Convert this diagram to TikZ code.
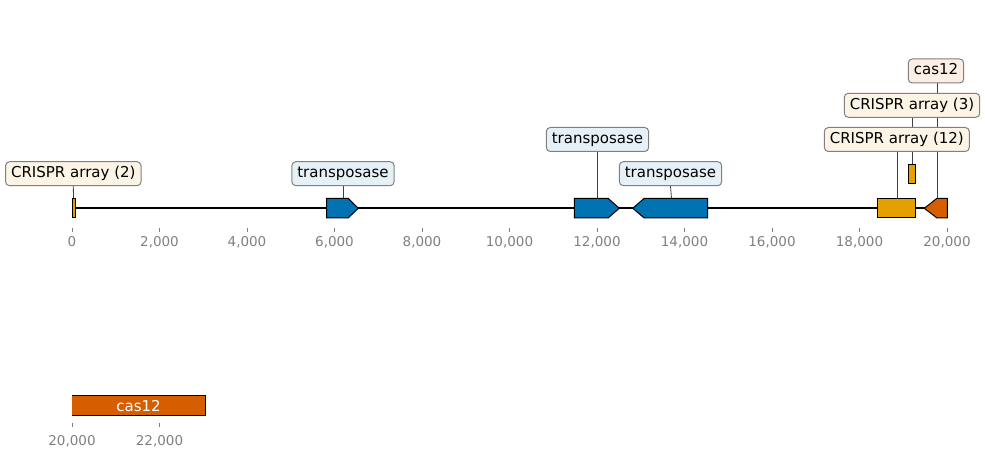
\documentclass[tikz,border=0pt]{standalone}
\usepackage{fontspec}
\setmainfont{DejaVu Sans}
\usetikzlibrary{backgrounds}

\definecolor{featblue}{HTML}{0072B2}
\definecolor{featgold}{HTML}{E69F00}
\definecolor{featred}{HTML}{D55E00}
\definecolor{tickgray}{HTML}{808080}

\begin{document}
\begin{tikzpicture}[x=1pt,y=-1pt,
    lbl/.style={draw=tickgray, line width=1pt, rounded corners=4pt, font=\fontsize{15}{18}\selectfont,
        inner xsep=5.5pt, inner ysep=5pt, text height=11pt, text depth=3pt},
    feat/.style={draw=black, line width=1pt, line join=miter},
    link/.style={draw=black!75, line width=0.8pt},
    ticklbl/.style={text=tickgray, font=\fontsize{13.5}{16}\selectfont, anchor=base}]
        \useasboundingbox (0,0) rectangle (985,457);

        % sequence line
        \draw[line width=2pt] (72,208.3) -- (947,208.3);

        \filldraw[feat, fill=featgold] (72,198.5) rectangle (75,217.8);
        \coordinate (cr2) at (73.5,198.5);

        \filldraw[feat, fill=featblue] (326.7,198.5) -- (348.3,198.5) -- (358.3,208.3) -- (348.3,217.8) -- (326.7,217.8) -- cycle;
        \coordinate (tp1) at (343,198.5);

        \filldraw[feat, fill=featblue] (574.3,198.5) -- (608.3,198.5) -- (619.3,208.3) -- (608.3,217.8) -- (574.3,217.8) -- cycle;
        \coordinate (tp2) at (597.5,198.5);

        \filldraw[feat, fill=featblue] (707.7,198.5) -- (644,198.5) -- (632.7,208.3) -- (644,217.8) -- (707.7,217.8) -- cycle;
        \coordinate (tp3) at (671.5,198.5);

        \filldraw[feat, fill=featgold] (877.3,198.5) rectangle (915.7,217.8);
        \coordinate (cr12) at (897.7,198.5);

        \filldraw[feat, fill=featgold] (908.3,164.2) rectangle (915.7,183.5);
        \coordinate (cr3) at (912.3,164.2);

        \filldraw[feat, fill=featred] (947.3,198.5) -- (936.7,198.5) -- (924.3,208.3) -- (936.7,217.8) -- (947.3,217.8) -- cycle;
        \coordinate (cas) at (937,198.5);

        % labels
        \node[lbl, fill=featgold!10!white] (lblcr2) at (73.3,173.7) {CRISPR array (2)};
        \node[lbl, fill=featblue!10!white] (lbltp1) at (343,173.7) {transposase};
        \node[lbl, fill=featblue!10!white] (lbltp2) at (597.5,139.5) {transposase};
        \node[lbl, fill=featblue!10!white] (lbltp3) at (670.5,173.7) {transposase};
        \node[lbl, fill=featgold!10!white] (lblcr12) at (896.8,139.5) {CRISPR array (12)};
        \node[lbl, fill=featgold!10!white] (lblcr3) at (912,105.3) {CRISPR array (3)};
        \node[lbl, fill=featred!10!white] (lblcas) at (936,71) {cas12};

        \begin{scope}[on background layer]
            \draw[link] (lblcr2.south) -- (cr2);
            \draw[link] (lbltp1.south) -- (tp1);
            \draw[link] (lbltp2.south) -- (tp2);
            \draw[link] (lbltp3.south) -- (tp3);
            \draw[link] (lblcr12.south -| cr12) -- (cr12);
            \draw[link] (lblcr3.south -| cr3) -- (cr3);
            \draw[link] (lblcas.south -| cas) -- (cas);
        \end{scope}

        % axis
        \foreach \k/\t in {0/0, 1/{2,000}, 2/{4,000}, 3/{6,000}, 4/{8,000}, 5/{10,000}, 6/{12,000}, 7/{14,000}, 8/{16,000}, 9/{18,000}, 10/{20,000}} {
            \draw[tickgray, line width=0.8pt] ({72+87.5*\k},228.5) -- ({72+87.5*\k},232);
            \node[ticklbl] (t\k) at ({72+87.5*\k},247) {\t};
        }

        % second line
        \fill[featred] (72,395.7) rectangle (205,415.7);
        \draw[line width=1pt] (72,395.7) -- (205,395.7) -- (205,415.7) -- (72,415.7);
        \node[text=white, font=\fontsize{15}{18}\selectfont] (cas2) at (138.5,406.5) {cas12};

        \draw[tickgray, line width=0.8pt] (72,423) -- (72,426.5);
        \draw[tickgray, line width=0.8pt] (159.5,423) -- (159.5,426.5);
        \node[ticklbl] (b0) at (72,445.5) {20,000};
        \node[ticklbl] (b1) at (159.5,445.5) {22,000};
    \end{tikzpicture}
\end{document}
